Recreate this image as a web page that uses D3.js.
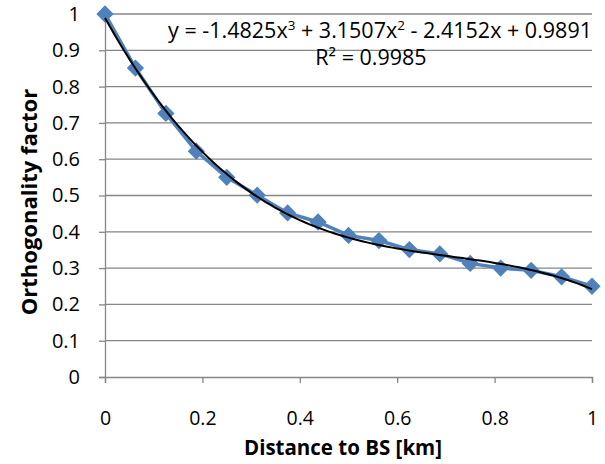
<!DOCTYPE html>
<html lang="en">
<head>
<meta charset="UTF-8">
<title>Orthogonality factor</title>
<style>
  body { margin: 0; background: #fff; }
  svg text { font-family: "Open Sans", "Noto Sans", sans-serif; fill: #000; }
</style>
</head>
<body>
<svg id="chart" width="605" height="464"></svg>
<script src="https://cdn.jsdelivr.net/npm/d3@7"></script>
<script>
  // distance to BS [km] and measured orthogonality factor
  const distance = [0, 0.0625, 0.125, 0.1875, 0.25, 0.3125, 0.375, 0.4375, 0.5,
                    0.5625, 0.625, 0.6875, 0.75, 0.8125, 0.875, 0.9375, 1];
  const orthFactor = [1.0, 0.851, 0.726, 0.622, 0.55, 0.501, 0.452, 0.427, 0.39,
                      0.376, 0.351, 0.339, 0.313, 0.30, 0.294, 0.276, 0.25];
  // cubic trendline coefficients (x^3, x^2, x, 1) as printed on the chart
  const trendCoef = [-1.4825, 3.1507, -2.4152, 0.9891];
  const xTicks = [0, 0.2, 0.4, 0.6, 0.8, 1];
  const yTicks = [0, 0.1, 0.2, 0.3, 0.4, 0.5, 0.6, 0.7, 0.8, 0.9, 1];

  const svg = d3.select('#chart');
  const x = d3.scaleLinear().domain([0, 1]).range([105, 592]);
  const y = d3.scaleLinear().domain([0, 1]).range([377, 14]);
  const grey = '#868686';

  // gridlines
  svg.append('g').selectAll('line').data(yTicks.slice(1)).enter().append('line')
    .attr('x1', x(0)).attr('x2', x(1))
    .attr('y1', d => y(d)).attr('y2', d => y(d))
    .attr('stroke', grey).attr('stroke-width', 1.3);

  // axes
  const yAxis = svg.append('g').attr('transform', `translate(${x(0)},0)`)
    .call(d3.axisLeft(y).tickValues(yTicks).tickFormat(d3.format('')).tickSize(6).tickPadding(19));
  const xAxis = svg.append('g').attr('transform', `translate(0,${y(0)})`)
    .call(d3.axisBottom(x).tickValues(xTicks).tickFormat(d3.format('')).tickSize(6).tickPadding(28));
  [yAxis, xAxis].forEach(a => {
    a.select('.domain').attr('stroke', grey).attr('stroke-width', 1.3);
    a.selectAll('.tick line').attr('stroke', grey).attr('stroke-width', 1.3);
    a.selectAll('text').style('font-size', '20px').attr('fill', '#000');
  });
  xAxis.selectAll('text').style('font-size', '19.5px');

  // data series
  const pts = distance.map((d, i) => [d, orthFactor[i]]);
  svg.append('path').datum(pts)
    .attr('d', d3.line().x(d => x(d[0])).y(d => y(d[1])))
    .attr('fill', 'none').attr('stroke', '#4F81BD').attr('stroke-width', 3.5);
  svg.append('g').selectAll('path').data(pts).enter().append('path')
    .attr('transform', d => `translate(${x(d[0])},${y(d[1])})`)
    .attr('d', d3.symbol().type(d3.symbolDiamond2).size(190))
    .attr('fill', '#4F81BD');

  // polynomial trendline
  const poly = t => trendCoef.reduce((acc, c) => acc * t + c, 0);
  const trend = d3.range(0, 1.0001, 0.01).map(t => [t, poly(t)]);
  svg.append('path').datum(trend)
    .attr('d', d3.line().x(d => x(d[0])).y(d => y(d[1])))
    .attr('fill', 'none').attr('stroke', '#000').attr('stroke-width', 2);

  // trendline label
  const eq = svg.append('text').attr('x', 592).attr('y', 38).attr('text-anchor', 'end')
    .style('font-size', '21.5px');
  eq.append('tspan').text('y = -1.4825x');
  eq.append('tspan').attr('dy', -8).style('font-size', '13.5px').text('3');
  eq.append('tspan').attr('dy', 8).text(' + 3.1507x');
  eq.append('tspan').attr('dy', -8).style('font-size', '13.5px').text('2');
  eq.append('tspan').attr('dy', 8).text(' - 2.4152x + 0.9891');
  svg.append('text').attr('x', 371).attr('y', 65).attr('text-anchor', 'middle')
    .style('font-size', '21.5px').text('R² = 0.9985');

  // axis titles
  svg.append('text').attr('x', 343).attr('y', 455).attr('text-anchor', 'middle')
    .style('font-size', '20.5px').style('font-weight', 'bold').text('Distance to BS [km]');
  svg.append('text').attr('transform', 'translate(37,202) rotate(-90)').attr('text-anchor', 'middle')
    .style('font-size', '22px').style('font-weight', 'bold').text('Orthogonality factor');
</script>
</body>
</html>
